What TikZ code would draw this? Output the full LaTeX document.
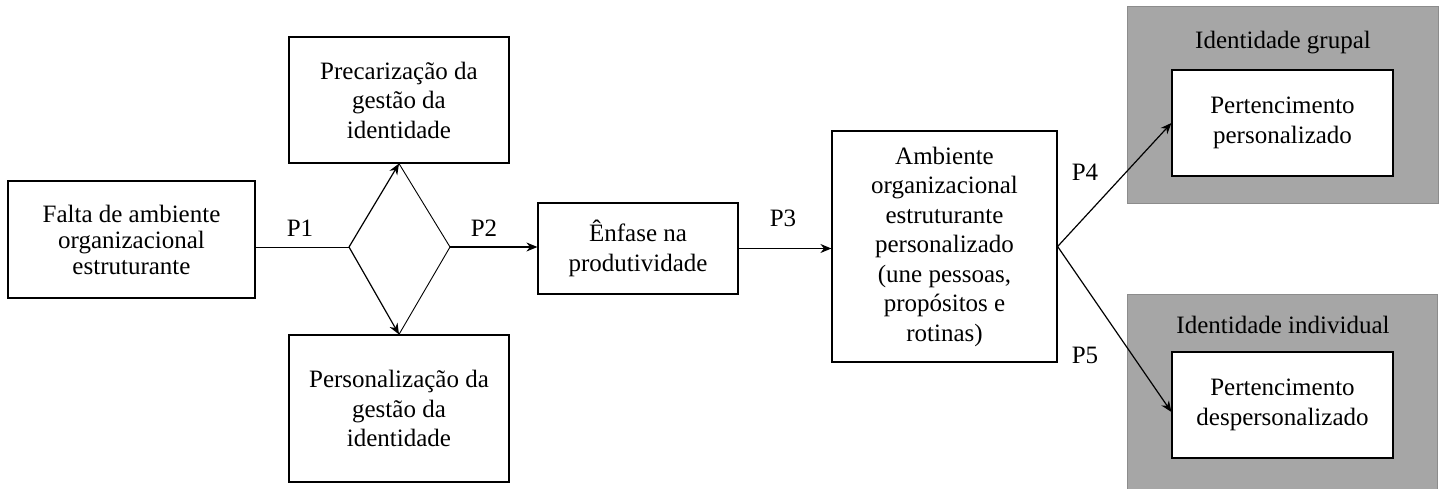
\documentclass[tikz,border=0pt]{standalone}
\usepackage{fontspec}
\setmainfont{Liberation Serif}
\usepackage[dvipsnames]{xcolor}
\usetikzlibrary{arrows.meta}
\definecolor{cinza}{HTML}{A6A6A6}

\begin{document}
\begin{tikzpicture}[x=1pt,y=-1pt,>={Stealth[length=11pt,width=9pt]},auto,
    box/.style={draw,line width=1.2pt,fill=white,align=center,inner sep=0pt,font=\fontsize{25}{29.5}\selectfont},
    grupo/.style={draw=gray!90,line width=1pt,fill=cinza,inner sep=0pt},
    rotulo/.style={font=\fontsize{25}{29.5}\selectfont,inner sep=0pt},
    seta/.style={->,line width=1.2pt},
    linha/.style={line width=0.9pt}]
            \useasboundingbox (0,0) rectangle (1439,489);
            \node[box,minimum width=247,minimum height=117,font=\fontsize{25}{26}\selectfont] (falta) at (131.5,239.5) {Falta de ambiente\\organizacional\\estruturante};
            \node[box,minimum width=220,minimum height=126] (prec) at (399,100) {Precarização da\\gestão da\\identidade};
            \node[box,minimum width=220,minimum height=147] (pers) at (399,408.5) {Personalização da\\gestão da\\identidade};
            \node[box,minimum width=200,minimum height=91] (enf) at (638,248.5) {Ênfase na\\produtividade};
            \node[box,minimum width=225,minimum height=231] (amb) at (944.5,246.5) {Ambiente\\organizacional\\estruturante\\personalizado\\(une pessoas,\\propósitos e\\rotinas)};

            % grupos de identidade
            \node[grupo,minimum width=311,minimum height=196] (grupal) at (1282.5,105) {};
            \node[grupo,minimum width=310,minimum height=200] (indiv) at (1282,394) {};
            \node[rotulo] (tgrupal) at (1283,43) {Identidade grupal};
            \node[rotulo] (tindiv) at (1283,325) {Identidade individual};
            \node[box,minimum width=221,minimum height=106] (pgrupal) at (1282.5,123) {Pertencimento\\personalizado};
            \node[box,minimum width=221,minimum height=106] (pindiv) at (1282.5,405) {Pertencimento\\despersonalizado};

            % losango
            \coordinate (esq) at (349,247);
            \coordinate (dir) at (450,247);

            \draw[linha] (falta.east |- esq) -- (esq);
            \draw[seta] (esq) -- (prec.south);
            \draw[seta] (esq) -- (pers.north);
            \draw[linha] (prec.south) -- (dir);
            \draw[linha] (pers.north) -- (dir);
            \draw[seta] (dir) -- (enf.west |- dir);
            \draw[seta] (enf.east) -- (amb.west |- enf.east);
            \draw[seta] (amb.east) -- (pgrupal.west);
            \draw[seta] (amb.east) -- ([yshift=-7]pindiv.west);

            \node[rotulo] (p1) at (300,228) {P1};
            \node[rotulo] (p2) at (484,228) {P2};
            \node[rotulo] (p3) at (783,218) {P3};
            \node[rotulo] (p4) at (1085,172) {P4};
            \node[rotulo] (p5) at (1085,355) {P5};
        \end{tikzpicture}
\end{document}
